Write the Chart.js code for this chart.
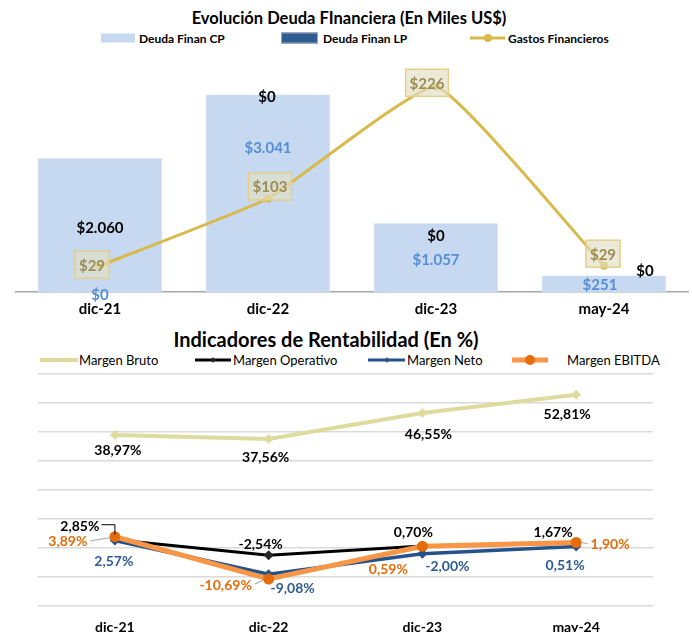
<!DOCTYPE html>
<html lang="es">
<head>
<meta charset="utf-8">
<title>Deuda y Rentabilidad</title>
<script src="https://cdn.jsdelivr.net/npm/chart.js@4.4.1/dist/chart.umd.min.js"></script>
<style>
  html, body { margin: 0; padding: 0; background: #fff; }
  body { width: 692px; height: 632px; overflow: hidden; position: relative; font-family: Lato, 'Open Sans', sans-serif; color: #000; }
  canvas { position: absolute; left: 0; }
  #deudaChart { top: 0; }
  #rentChart { top: 320px; }
  .title { position: absolute; width: 692px; text-align: center; font-weight: bold; white-space: nowrap; }
  #title1 { top: 8px; left: 3px; font-size: 16.5px; line-height: 20px; }
  #title2 { top: 328px; left: -20px; font-size: 20px; line-height: 23px; }
  .legend { position: absolute; left: 0; width: 692px; }
  #legend1 { top: 31px; height: 14px; font-size: 12px; font-weight: bold; }
  #legend2 { top: 352px; height: 16px; font-size: 13px; }
  .lg-item { position: absolute; top: 0; display: flex; align-items: center; white-space: nowrap; height: 100%; }
  .mk { position: relative; display: inline-block; height: 12px; }
  .mk-box { position: absolute; left: 0; right: 0; top: 50%; transform: translateY(-50%); box-sizing: border-box; }
  .mk-line { position: absolute; left: 0; right: 0; top: 50%; transform: translateY(-50%); }
  .mk-dot { position: absolute; left: 50%; top: 50%; }
</style>
</head>
<body>
<div id="title1" class="title">Evolución Deuda FInanciera (En Miles US$)</div>
<div id="legend1" class="legend"></div>
<canvas id="deudaChart" width="692" height="320"></canvas>
<div id="title2" class="title">Indicadores de Rentabilidad (En %)</div>
<div id="legend2" class="legend"></div>
<canvas id="rentChart" width="692" height="320"></canvas>
<script>
// ---- data ----
const categories = ['dic-21', 'dic-22', 'dic-23', 'may-24'];

// Deuda financiera, miles US$
const deudaFinanCP = [0, 3041, 1057, 251];
const deudaFinanLP = [2060, 0, 0, 0];
const gastosFinancieros = [29, 103, 226, 29];

// Rentabilidad, %
const margenBruto = [38.97, 37.56, 46.55, 52.81];
const margenOperativo = [2.85, -2.54, 0.70, 1.67];
const margenNeto = [2.57, -9.08, -2.00, 0.51];
const margenEbitda = [3.89, -10.69, 0.59, 1.90];

// ---- colours ----
const LIGHT_BLUE = '#c6d9f1';
const DARK_BLUE = '#2f5d91';
const GOLD = '#d8b94a';
const KHAKI = '#dedb9f';
const NAVY = '#24528a';
const ORANGE = '#f79646';
const ORANGE_DARK = '#e46c0a';

Chart.defaults.font.family = 'Lato';
Chart.defaults.color = '#000';

const fmtMoney = v => '$' + String(v).replace(/\B(?=(\d{3})+(?!\d))/g, '.');
const fmtPct = v => v.toFixed(2).replace('.', ',') + '%';

// draws the data labels next to each bar / point, offsets are nudges in px
const valueLabels = {
  id: 'valueLabels',
  afterDatasetsDraw(chart) {
    const { ctx } = chart;
    chart.data.datasets.forEach((ds, di) => {
      const vl = ds.valueLabel;
      if (!vl) return;
      const meta = chart.getDatasetMeta(di);
      ctx.save();
      ctx.font = vl.font;
      ctx.textAlign = 'center';
      ctx.textBaseline = 'middle';
      meta.data.forEach((el, i) => {
        const c = el.getCenterPoint();
        const [dx, dy] = vl.offsets[i];
        const x = c.x + dx, y = c.y + dy;
        const text = vl.format(ds.data[i]);
        const w = ctx.measureText(text).width;
        if (vl.box) {
          const bw = w + 8, bh = 27;
          ctx.fillStyle = 'rgba(226,224,198,0.68)';
          ctx.fillRect(x - bw / 2, y - bh / 2, bw, bh);
          ctx.strokeStyle = '#e3cf88';
          ctx.lineWidth = 1.5;
          ctx.strokeRect(x - bw / 2, y - bh / 2, bw, bh);
        }
        const leader = vl.leaders && vl.leaders[i];
        if (leader === 'bracket') {
          ctx.strokeStyle = '#000';
          ctx.lineWidth = 1;
          ctx.beginPath();
          ctx.moveTo(x + w / 2 + 2, y - 1);
          ctx.lineTo(c.x, y - 1);
          ctx.lineTo(c.x, c.y - 5);
          ctx.stroke();
        } else if (leader === 'line') {
          ctx.strokeStyle = '#a6a6a6';
          ctx.lineWidth = 1.2;
          ctx.beginPath();
          if (x < c.x) {
            ctx.moveTo(x + w / 2 + 3, y);
            ctx.lineTo(c.x - 5, c.y + 1);
          } else {
            ctx.moveTo(x - w / 2 - 3, y);
            ctx.lineTo(c.x + 5, c.y);
          }
          ctx.stroke();
        }
        ctx.fillStyle = vl.color;
        ctx.fillText(text, x, y + 1);
      });
      ctx.restore();
    });
  }
};

// ---- HTML legends ----
function markerHTML(m) {
  let inner = '';
  if (m.kind === 'box') {
    inner = `<span class="mk-box" style="height:${m.h}px;background:${m.color};${m.border ? 'border:1px solid ' + m.border : ''}"></span>`;
  } else {
    inner = `<span class="mk-line" style="height:${m.lw}px;background:${m.color}"></span>`;
    if (m.dot) {
      const d = m.dot;
      inner += `<span class="mk-dot" style="width:${d.size}px;height:${d.size}px;margin:-${d.size / 2}px 0 0 -${d.size / 2}px;background:${d.color};border-radius:${d.round ? '50%' : '0'};${d.round ? '' : 'transform:rotate(45deg)'}"></span>`;
    }
  }
  return `<span class="mk" style="width:${m.w}px">${inner}</span>`;
}

function renderLegend(el, chart, items) {
  el.innerHTML = items.map(it => {
    const label = chart.data.datasets[it.dataset].label;
    return `<div class="lg-item" style="left:${it.x}px">${markerHTML(it.marker)}<span style="margin-left:${it.gap}px">${label}</span></div>`;
  }).join('');
}

// ---- chart 1: deuda ----
const deudaChart = new Chart(document.getElementById('deudaChart'), {
  data: {
    labels: categories,
    datasets: [
      {
        type: 'bar', label: 'Deuda Finan CP', data: deudaFinanCP,
        backgroundColor: LIGHT_BLUE, stack: 'deuda', order: 1,
        categoryPercentage: 1, barPercentage: 0.735,
        valueLabel: { font: 'bold 15px Lato', color: '#558ed5', format: fmtMoney,
          offsets: [[0, 2], [0, -46], [0, 1], [-4, 0]] }
      },
      {
        type: 'bar', label: 'Deuda Finan LP', data: deudaFinanLP,
        backgroundColor: [LIGHT_BLUE, DARK_BLUE, DARK_BLUE, DARK_BLUE], stack: 'deuda', order: 1,
        categoryPercentage: 1, barPercentage: 0.735,
        valueLabel: { font: 'bold 15px Lato', color: '#000', format: fmtMoney,
          offsets: [[0, 2], [-1, 1], [0, 12], [41, -6]] }
      },
      {
        type: 'line', label: 'Gastos Financieros', data: gastosFinancieros, yAxisID: 'y2',
        borderColor: GOLD, backgroundColor: GOLD, borderWidth: 3,
        pointRadius: 4, pointBorderWidth: 0, tension: 0.12, order: 0,
        valueLabel: { font: 'bold 15px Lato', color: '#9c8d55', format: fmtMoney, box: true,
          offsets: [[-8, -1], [2, -12], [-9, -4], [-1, -12]] }
      }
    ]
  },
  options: {
    responsive: false,
    animation: false,
    layout: { padding: { top: 65, left: 16, right: 2, bottom: 0 } },
    plugins: { legend: { display: false }, tooltip: { enabled: false } },
    scales: {
      x: {
        stacked: true, offset: true,
        grid: { display: false, drawTicks: false },
        border: { display: true, color: '#a6a6a6', width: 1.5 },
        ticks: { font: { size: 15, weight: 'bold' }, color: '#000', padding: 8 },
        afterFit: s => { s.height = 28; }
      },
      y: { stacked: true, display: false, min: 0, max: 3500 },
      y2: { display: false, min: 0, max: 250 }
    }
  },
  plugins: [valueLabels]
});

renderLegend(document.getElementById('legend1'), deudaChart, [
  { dataset: 0, x: 101, gap: 4, marker: { kind: 'box', w: 34, h: 9, color: LIGHT_BLUE } },
  { dataset: 1, x: 281, gap: 5, marker: { kind: 'box', w: 37, h: 11, color: DARK_BLUE, border: '#a0a8b4' } },
  { dataset: 2, x: 470, gap: 3, marker: { kind: 'line', w: 35, lw: 3, color: GOLD, dot: { size: 8, color: GOLD, round: true } } }
]);

// ---- chart 2: rentabilidad ----
const rentChart = new Chart(document.getElementById('rentChart'), {
  type: 'line',
  data: {
    labels: categories,
    datasets: [
      {
        label: 'Margen Bruto', data: margenBruto, order: 3,
        borderColor: KHAKI, backgroundColor: KHAKI, borderWidth: 4,
        pointStyle: 'rectRot', pointRadius: 5, pointBorderWidth: 0,
        valueLabel: { font: 'bold 14px Lato', color: '#000', format: fmtPct,
          offsets: [[3, 14], [-3, 17], [6, 20], [-9, 19]] }
      },
      {
        label: 'Margen Operativo', data: margenOperativo, order: 2,
        borderColor: '#000', backgroundColor: '#262626', borderWidth: 3,
        pointStyle: 'rectRot', pointRadius: 5, pointBorderWidth: 0,
        valueLabel: { font: 'bold 14px Lato', color: '#000', format: fmtPct,
          offsets: [[-35, -14], [-8, -12], [-9, -14], [-23, -12]],
          leaders: ['bracket', null, null, null] }
      },
      {
        label: 'Margen Neto', data: margenNeto, order: 1,
        borderColor: NAVY, backgroundColor: NAVY, borderWidth: 3.5,
        pointStyle: 'rectRot', pointRadius: 5, pointBorderWidth: 0,
        valueLabel: { font: 'bold 14px Lato', color: '#2f5b93', format: fmtPct,
          offsets: [[-1, 20], [24, 13], [25, 12], [-11, 18]] }
      },
      {
        label: 'Margen EBITDA', data: margenEbitda, order: 0,
        borderColor: ORANGE, backgroundColor: ORANGE_DARK, borderWidth: 5,
        pointStyle: 'circle', pointRadius: 5.5, pointBorderWidth: 0,
        valueLabel: { font: 'bold 14px Lato', color: ORANGE_DARK, format: fmtPct,
          offsets: [[-47, 4], [-43, 5], [-34, 22], [34, 1]],
          leaders: ['line', 'line', null, 'line'] }
      }
    ]
  },
  options: {
    responsive: false,
    animation: false,
    layout: { padding: { top: 54, left: 38, right: 39, bottom: 4 } },
    plugins: { legend: { display: false }, tooltip: { enabled: false } },
    scales: {
      x: {
        offset: true,
        grid: { display: false, drawTicks: false },
        border: { display: false },
        ticks: { font: { size: 14, weight: 'bold' }, color: '#000', padding: 13 },
        afterFit: s => { s.height = 30; }
      },
      y: {
        min: -20, max: 60,
        ticks: { display: false, stepSize: 10 },
        grid: { color: '#d9d9d9', lineWidth: 1.5, drawTicks: false },
        border: { display: false },
        afterFit: s => { s.width = 0; }
      }
    }
  },
  plugins: [valueLabels]
});

renderLegend(document.getElementById('legend2'), rentChart, [
  { dataset: 0, x: 40, gap: 1, marker: { kind: 'line', w: 38, lw: 4, color: KHAKI, dot: { size: 4, color: KHAKI } } },
  { dataset: 1, x: 195, gap: 2, marker: { kind: 'line', w: 36, lw: 3, color: '#000', dot: { size: 4, color: '#262626' } } },
  { dataset: 2, x: 368, gap: 2, marker: { kind: 'line', w: 37, lw: 3, color: NAVY, dot: { size: 4, color: NAVY } } },
  { dataset: 3, x: 512, gap: 19, marker: { kind: 'line', w: 36, lw: 5, color: ORANGE, dot: { size: 10, color: ORANGE_DARK, round: true } } }
]);
</script>
</body>
</html>
